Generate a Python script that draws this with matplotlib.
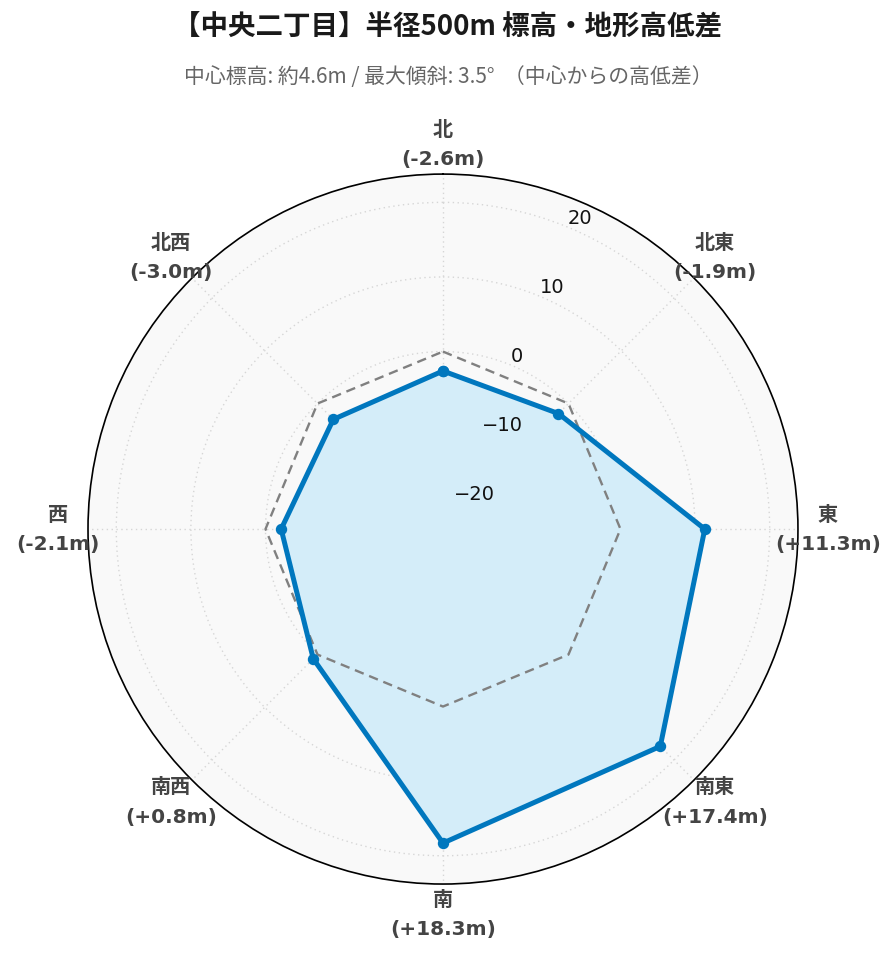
import numpy as np
import matplotlib.pyplot as plt

plt.rcParams['font.family'] = ['DejaVu Sans', 'Noto Sans CJK JP']

DIRECTIONS = ["北", "北東", "東", "南東", "南", "南西", "西", "北西"]
ELEVATION_DIFF = [-2.6, -1.9, 11.3, 17.4, 18.3, 0.8, -2.1, -3.0]
RADIAL_TICKS = [-20, -10, 0, 10, 20]
TITLE = "【中央二丁目】半径500m 標高・地形高低差"
SUBTITLE = "中心標高: 約4.6m / 最大傾斜: 3.5°  （中心からの高低差）"

LINE_COLOR = "#0077BE"
FILL_COLOR = "#D4EDF9"


def plot_radar() -> None:
    fig = plt.figure(figsize=(8.96, 9.62), dpi=100)
    ax = fig.add_axes([0.0982, 0.08, 0.7924, 0.738], projection="polar")
    ax.set_theta_zero_location("N")
    ax.set_theta_direction(-1)
    ax.set_facecolor("#f9f9f9")

    rmax = 1.3 * max(abs(v) for v in ELEVATION_DIFF)
    ax.set_ylim(-rmax, rmax)

    angles = np.linspace(0, 2 * np.pi, len(DIRECTIONS), endpoint=False)
    closed_angles = np.append(angles, angles[0])
    values = np.append(ELEVATION_DIFF, ELEVATION_DIFF[0])
    zeros = np.zeros(len(closed_angles))

    # filled area and outline for the elevation difference
    ax.fill(closed_angles, values, color=FILL_COLOR, zorder=2)
    ax.plot(closed_angles, zeros, color="gray", linestyle=(0, (4, 2.5)), linewidth=1.7, zorder=3)
    ax.plot(closed_angles, values, color=LINE_COLOR, linewidth=3.6, marker="o", markersize=7.2, zorder=4)

    # grid
    ax.set_xticks(angles)
    ax.set_xticklabels([])
    ax.set_yticks(RADIAL_TICKS)
    ax.set_yticklabels([])
    ax.grid(True, color="#d6d6d6", linestyle=(0, (1, 2.5)), linewidth=1.0)
    ax.spines["polar"].set_color("black")
    ax.spines["polar"].set_linewidth(1.2)
    ax.tick_params(axis="both", length=0)

    # radial tick labels along 22.5 deg
    for t in RADIAL_TICKS:
        ax.text(np.deg2rad(22.5), t, str(t).replace("-", "\u2212"), ha="left", va="bottom",
                fontsize=14, color="#111111", zorder=5)

    # direction labels with values
    r_label = -rmax + 2 * rmax * 385 / 355
    for ang, name, v in zip(angles, DIRECTIONS, ELEVATION_DIFF):
        ax.text(ang, r_label, f"{name}\n({v:+.1f}m)", ha="center", va="center",
                fontsize=14.5, fontweight="bold", color="#444444", linespacing=1.7,
                clip_on=False)

    fig.text(0.5, 1 - 27 / 962, TITLE, ha="center", va="center", fontsize=19.8,
             fontweight="bold", family="Noto Sans CJK JP", color="#1a1a1a")
    fig.text(0.5, 1 - 77 / 962, SUBTITLE, ha="center", va="center", fontsize=15,
             family="Noto Sans CJK JP", color="#666666")

    fig.savefig("out.png", dpi=100)
    plt.close(fig)


if __name__ == "__main__":
    plot_radar()
